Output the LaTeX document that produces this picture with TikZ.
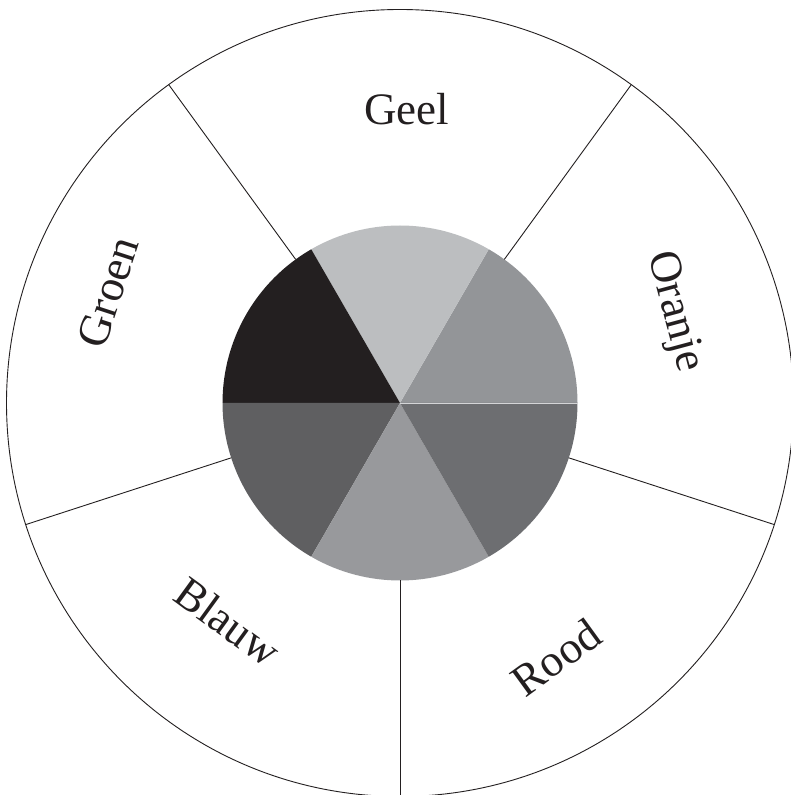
\documentclass[tikz,border=0pt]{standalone}
\usepackage{fontspec}
\setmainfont{Liberation Serif}
\definecolor{inkblack}{HTML}{231F20}
\definecolor{segA}{HTML}{939598}
\definecolor{segB}{HTML}{BCBEC0}
\definecolor{segC}{HTML}{231F20}
\definecolor{segD}{HTML}{5F5F61}
\definecolor{segE}{HTML}{98999C}
\definecolor{segF}{HTML}{6D6E71}
\definecolor{seam}{HTML}{D4D5D7}
\begin{document}
\begin{tikzpicture}[x=1pt,y=1pt,
  spoke/.style={draw=inkblack, line width=0.9pt},
  lbl/.style={font=\fontsize{45}{50}\selectfont, text=inkblack, inner sep=0pt}]
\useasboundingbox (0,0) rectangle (791,795);
\clip (0,0) rectangle (791,795);
\fill[white] (0,0) rectangle (791,795);
\coordinate (C) at (400,392);
\def\rin{177.5}
\def\rout{393.5}
\draw[spoke] (C) circle[radius=\rout];
\fill[segA] (C) -- ++(0:\rin) arc[start angle=0,end angle=60,radius=\rin] -- cycle;
\fill[segB] (C) -- ++(60:\rin) arc[start angle=60,end angle=120,radius=\rin] -- cycle;
\fill[segC] (C) -- ++(120:\rin) arc[start angle=120,end angle=180,radius=\rin] -- cycle;
\fill[segD] (C) -- ++(180:\rin) arc[start angle=180,end angle=240,radius=\rin] -- cycle;
\fill[segE] (C) -- ++(240:\rin) arc[start angle=240,end angle=300,radius=\rin] -- cycle;
\fill[segF] (C) -- ++(300:\rin) arc[start angle=300,end angle=360,radius=\rin] -- cycle;
\draw[seam, line width=0.8pt] (C) -- ++(0:\rin);
\foreach \a in {54,126,198,270,342}
  \draw[spoke] (C) ++(\a:\rin) -- ++(\a:\rout-\rin);
\node[lbl] (geel) at (406.5,686) {Geel};
\node[lbl, rotate=-75] (oranje) at (674,483) {Oranje};
\node[lbl, rotate=36] (rood) at (556,138) {Rood};
\node[lbl, rotate=-36] (blauw) at (228,173) {Blauw};
\node[lbl, rotate=72] (groen) at (108,503) {Groen};
\end{tikzpicture}
\end{document}
